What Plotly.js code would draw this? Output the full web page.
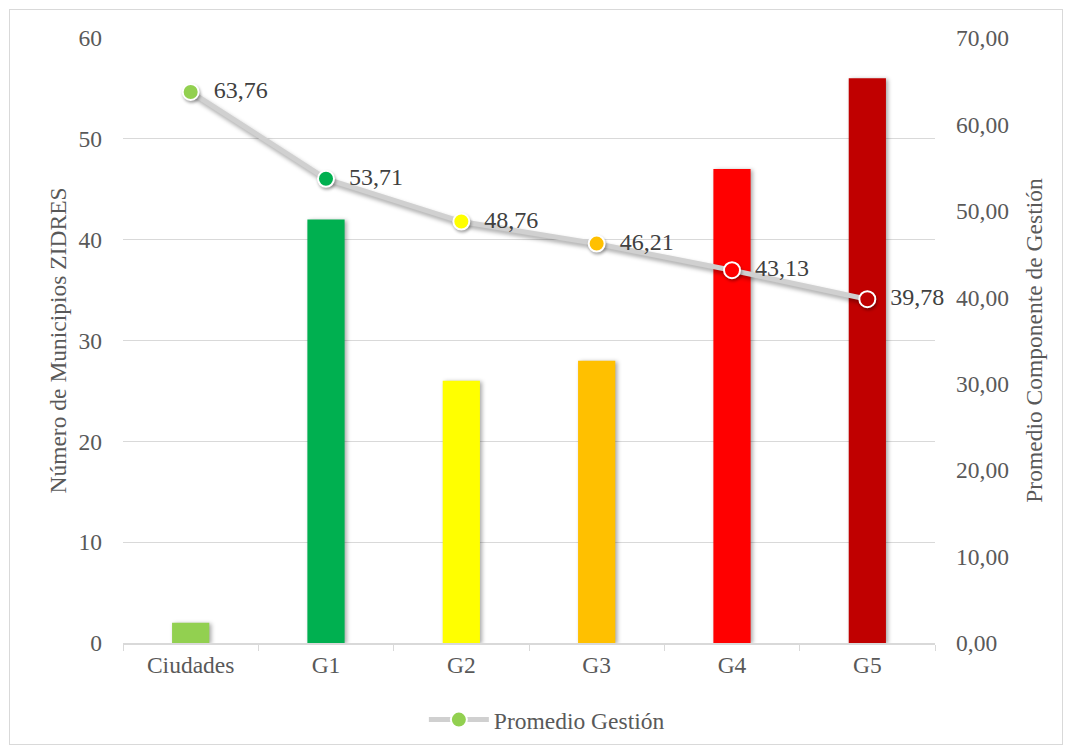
<!DOCTYPE html>
<html>
<head>
<meta charset="utf-8">
<script src="https://cdn.plot.ly/plotly-3.0.1.min.js"></script>
<style>
  html, body { margin: 0; padding: 0; background: #fff; }
  #wrap { position: relative; width: 1073px; height: 754px; }
  #frame { position: absolute; left: 9px; top: 9px; width: 1054px; height: 736px;
           border: 1px solid #d9d9d9; box-sizing: border-box; pointer-events: none; }
  #chart { width: 1073px; height: 754px; }
  .barlayer .point path { filter: drop-shadow(2px 1px 2px rgba(0,0,0,0.35)); }
  .scatterlayer .js-line { filter: drop-shadow(2px 3px 2px rgba(0,0,0,0.35)); }
  .scatterlayer .points path { filter: drop-shadow(1px 2px 1.5px rgba(0,0,0,0.35)); }
</style>
</head>
<body>
<div id="wrap">
  <div id="chart"></div>
  <div id="frame"></div>
</div>
<script>
// Grupos de municipios ZIDRES
const categorias = ['Ciudades', 'G1', 'G2', 'G3', 'G4', 'G5'];
// Número de municipios por grupo (eje izquierdo)
const municipios = [2, 42, 26, 28, 47, 56];
// Promedio del componente de gestión (eje derecho)
const promedioGestion = [63.76, 53.71, 48.76, 46.21, 43.13, 39.78];
const etiquetasPromedio = ['63,76', '53,71', '48,76', '46,21', '43,13', '39,78'];
// Colores por grupo
const colores = ['#92d050', '#00b050', '#ffff00', '#ffc000', '#ff0000', '#c00000'];

const fuente = '"Liberation Serif", "Times New Roman", "DejaVu Serif", serif';
const gris = '#595959';
const tamano = 23.5;

const barras = {
  type: 'bar',
  x: categorias,
  y: municipios,
  marker: { color: colores, line: { width: 0 } },
  showlegend: false,
  hoverinfo: 'x+y',
  yaxis: 'y'
};

// Etiquetas con un pequeño espacio tras el marcador
const textoEtiquetas = etiquetasPromedio.map(t => '\u00a0\u00a0' + t);

const linea = {
  type: 'scatter',
  mode: 'lines+markers+text',
  name: 'Promedio Gestión',
  x: categorias,
  y: promedioGestion,
  text: textoEtiquetas,
  textposition: 'middle right',
  textfont: { family: fuente, size: 24, color: '#404040' },
  line: { color: '#d0d0d0', width: 5 },
  marker: { color: colores, size: 16, line: { color: '#ffffff', width: 2 } },
  yaxis: 'y2',
  cliponaxis: false
};

const layout = {
  width: 1073,
  height: 754,
  margin: { l: 123, r: 138, t: 38, b: 111 },
  paper_bgcolor: '#ffffff',
  plot_bgcolor: '#ffffff',
  separators: ',.',
  font: { family: fuente, size: tamano, color: gris },
  bargap: 0.725,
  xaxis: {
    type: 'category',
    showline: true,
    linecolor: '#d9d9d9',
    linewidth: 1.5,
    ticks: 'outside',
    tickson: 'boundaries',
    ticklen: 6,
    tickcolor: '#d9d9d9',
    tickfont: { family: fuente, size: tamano, color: gris },
    showgrid: false,
    zeroline: false
  },
  yaxis: {
    range: [0, 60],
    dtick: 10,
    showgrid: true,
    gridcolor: '#d9d9d9',
    gridwidth: 1.3,
    zeroline: false,
    showline: false,
    ticks: '',
    ticklabelstandoff: 20,
    tickfont: { family: fuente, size: tamano, color: gris },
    title: { text: 'Número de Municipios ZIDRES', font: { family: fuente, size: tamano, color: gris }, standoff: 5 }
  },
  yaxis2: {
    overlaying: 'y',
    side: 'right',
    range: [0, 70],
    dtick: 10,
    tickformat: '.2f',
    showgrid: false,
    zeroline: false,
    showline: false,
    ticks: '',
    ticklabelstandoff: 20,
    tickfont: { family: fuente, size: tamano, color: gris },
    title: { text: 'Promedio Componente de Gestión', font: { family: fuente, size: tamano, color: gris }, standoff: 17 }
  },
  legend: {
    orientation: 'h',
    x: 0.522,
    xanchor: 'center',
    y: -0.127,
    yanchor: 'middle',
    font: { family: fuente, size: tamano, color: gris },
    itemwidth: 60
  }
};

Plotly.newPlot('chart', [barras, linea], layout, { displayModeBar: false, staticPlot: true });
</script>
</body>
</html>
